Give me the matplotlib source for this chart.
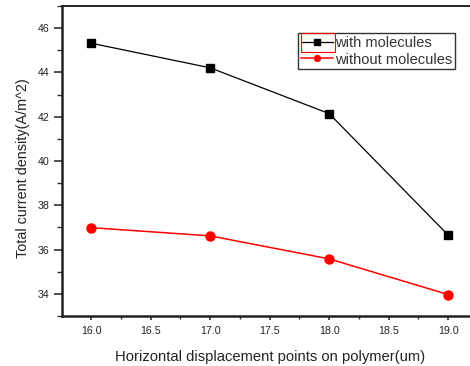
import matplotlib
matplotlib.use("Agg")
import matplotlib.pyplot as plt
from matplotlib.ticker import MultipleLocator, FormatStrFormatter
from matplotlib.patches import Rectangle

x = [16.0, 17.0, 18.0, 19.0]
with_mol = [45.32, 44.21, 42.14, 36.65]
without_mol = [36.99, 36.62, 35.58, 33.97]
labels = ["with molecules", "without molecules"]

plt.rcParams['font.family'] = ['Liberation Sans', 'DejaVu Sans']

fig = plt.figure(figsize=(4.7, 3.66), dpi=100)
W, H = 470, 366
left, right, top, bottom = 62, 478, 6, 316
ax = fig.add_axes([left / W, 1 - bottom / H, (right - left) / W, (bottom - top) / H])

ax.plot(x, with_mol, color='black', lw=0.9, marker='s', ms=6, label=labels[0])
ax.plot(x, without_mol, color='red', lw=1.1, marker='o', ms=6.5, label=labels[1])

ax.set_xlim(15.756, 19.25)
ax.set_ylim(33, 47)
ax.xaxis.set_major_locator(MultipleLocator(0.5))
ax.xaxis.set_minor_locator(MultipleLocator(0.25))
ax.yaxis.set_major_locator(MultipleLocator(2))
ax.yaxis.set_minor_locator(MultipleLocator(1))
ax.xaxis.set_major_formatter(FormatStrFormatter('%.1f'))

ax.tick_params(axis='both', which='both', direction='out', colors='#333333', labelcolor='#222222')
ax.tick_params(axis='y', which='major', length=5.8, width=1.2, labelsize=7.7, pad=3.0)
ax.tick_params(axis='y', which='minor', length=3.6, width=1.0)
ax.tick_params(axis='x', which='major', length=3.2, width=1.2, labelsize=7.7, pad=3.8)
ax.tick_params(axis='x', which='minor', length=2.5, width=1.0)
ax.tick_params(top=False, right=False)

ax.spines['left'].set_linewidth(1.8)
ax.spines['bottom'].set_linewidth(1.8)
ax.spines['top'].set_linewidth(1.4)
ax.spines['right'].set_visible(False)
for s in ax.spines.values():
    s.set_color('#222222')

ax.set_xlabel("Horizontal displacement points on polymer(um)", fontsize=10.6, color='#222222')
ax.set_ylabel("Total current density(A/m^2)", fontsize=10.4, color='#222222')
ax.xaxis.set_label_coords(0.499, -0.109)
ax.yaxis.set_label_coords(-0.076, 0.477)

leg = ax.legend(loc='upper left', bbox_to_anchor=((298 - left) / (right - left), 1 - (33 - top) / (bottom - top)),
                fontsize=10.5, frameon=True, fancybox=False, borderpad=0.18, handlelength=2.2,
                handletextpad=0.15, labelspacing=0.2, borderaxespad=0, markerscale=0.65)
leg.get_frame().set_edgecolor('black')
leg.get_frame().set_linewidth(1.0)
for t in leg.get_texts():
    t.set_color('#333333')

fig.patches.append(Rectangle((301 / W, 1 - 52 / H), 34 / W, 19 / H, transform=fig.transFigure,
                             fill=False, edgecolor='red', lw=0.8))

fig.savefig("out.png", dpi=100)
